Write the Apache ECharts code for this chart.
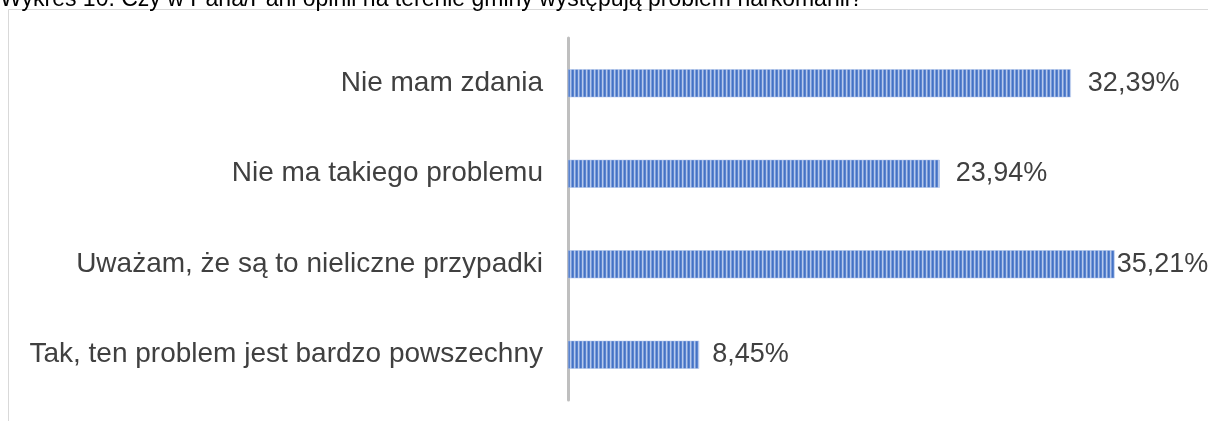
<!DOCTYPE html>
<html>
<head>
<meta charset="utf-8">
<script src="https://cdn.jsdelivr.net/npm/echarts@6/dist/echarts.min.js"></script>
<style>
html,body{margin:0;padding:0;background:#fff;}
#chart{width:1208px;height:421px;}
</style>
</head>
<body>
<div id="chart"></div>
<script>
const titleText = 'Wykres 10. Czy w Pana/Pani opinii na terenie gminy występują problem narkomanii?';
const categories = [
  'Tak, ten problem jest bardzo powszechny',
  'Uważam, że są to nieliczne przypadki',
  'Nie ma takiego problemu',
  'Nie mam zdania'
];
const values = [8.45, 35.21, 23.94, 32.39];
const labelDistances = [13, 2, 16, 17];

function stripePattern() {
  const c = document.createElement('canvas');
  c.width = 4; c.height = 4;
  const ctx = c.getContext('2d');
  const cols = ['#4472C4', '#5a84cf', '#b7c9eb', '#7b9ddb'];
  for (let i = 0; i < 4; i++) { ctx.fillStyle = cols[i]; ctx.fillRect(i, 0, 1, 4); }
  return c;
}

const chart = echarts.init(document.getElementById('chart'), null, {renderer: 'canvas'});
const pattern = stripePattern();
chart.setOption({
  animation: false,
  backgroundColor: '#fff',
  textStyle: {fontFamily: 'Liberation Sans, Arial, sans-serif'},
  graphic: [
    {type: 'rect', shape: {x: 8.5, y: 9.5, width: 1400, height: 600},
     style: {fill: 'none', stroke: '#d9d9d9', lineWidth: 1}, silent: true},
    {type: 'text', x: 0, y: -12,
     style: {text: titleText, fill: '#000', font: '23px "Liberation Sans", Arial, sans-serif', verticalAlign: 'top'}}
  ],
  grid: {left: 568, right: 19, top: 38, bottom: 21, containLabel: false},
  xAxis: {type: 'value', min: 0, max: 40, show: false},
  yAxis: {
    type: 'category', data: categories,
    axisLine: {show: true, lineStyle: {color: '#bfbfbf', width: 3}},
    axisTick: {show: false},
    axisLabel: {color: '#404040', fontSize: 28, margin: 25, fontFamily: 'Liberation Sans, Arial, sans-serif'}
  },
  series: [{
    type: 'bar',
    data: values.map((v, i) => ({value: v, label: {distance: labelDistances[i]}})),
    barWidth: 28,
    itemStyle: {color: {image: pattern, repeat: 'repeat'}, borderColor: '#a9bfe8', borderWidth: 0.5},
    label: {
      show: true, position: 'right', color: '#404040', fontSize: 27,
      fontFamily: 'Liberation Sans, Arial, sans-serif',
      formatter: p => p.value.toFixed(2).replace('.', ',') + '%'
    }
  }]
});
</script>
</body>
</html>
